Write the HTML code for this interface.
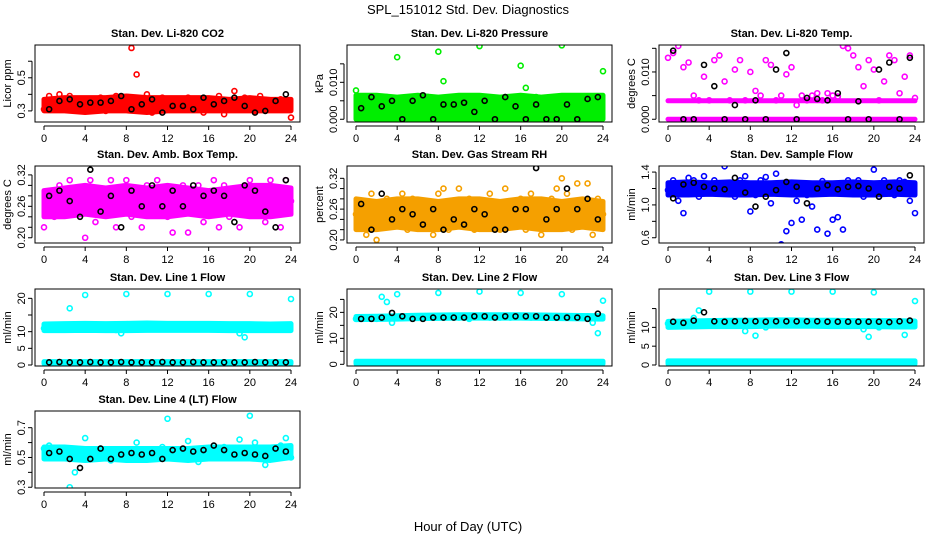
<!DOCTYPE html>
<html><head><meta charset="utf-8">
<style>
html,body{margin:0;padding:0;background:#fff;}
svg{display:block;font-family:"Liberation Sans",Arial,sans-serif;}
</style></head>
<body>
<svg id="chart" width="936" height="540" viewBox="0 0 936 540">
<text x="468" y="14" text-anchor="middle" font-size="13">SPL_151012  Std. Dev. Diagnostics</text>
<text x="468" y="531" text-anchor="middle" font-size="13">Hour of Day (UTC)</text>
</svg>
<script>
// shared measurement times
const hoursColor = [0,0.5,1,1.5,2,2.5,3,3.5,4,4.5,5,5.5,6,6.5,7,7.5,8,8.5,9,9.5,10,10.5,11,11.5,12,12.5,13,13.5,14,14.5,15,15.5,16,16.5,17,17.5,18,18.5,19,19.5,20,20.5,21,21.5,22,22.5,23,23.5,24];
const hoursBlack = [0.5,1.5,2.5,3.5,4.5,5.5,6.5,7.5,8.5,9.5,10.5,11.5,12.5,13.5,14.5,15.5,16.5,17.5,18.5,19.5,20.5,21.5,22.5,23.5];
const hoursBand = [0,2,4,6,8,10,12,14,16,18,20,22,24];
const xTicks = [0,4,8,12,16,20,24];

// panel 1 CO2
const co2Color = [0.31,0.39,0.33,0.40,0.36,0.39,0.34,0.31,0.35,0.37,0.33,0.38,0.30,0.36,0.39,0.32,0.37,0.68,0.52,0.35,0.40,0.29,0.34,0.38,0.33,0.37,0.31,0.36,0.38,0.33,0.35,0.29,0.37,0.34,0.39,0.28,0.36,0.42,0.33,0.38,0.35,0.30,0.39,0.34,0.36,0.31,0.37,0.33,0.26];
const co2Black = [0.31,0.36,0.37,0.34,0.35,0.35,0.36,0.39,0.31,0.34,0.37,0.29,0.33,0.33,0.31,0.38,0.34,0.36,0.38,0.33,0.29,0.30,0.36,0.40];
const co2BandLo = [0.30,0.30,0.29,0.30,0.30,0.29,0.30,0.30,0.30,0.30,0.30,0.30,0.30];
const co2BandHi = [0.37,0.38,0.38,0.38,0.39,0.38,0.38,0.38,0.38,0.37,0.38,0.37,0.37];
// panel 2 pressure
const presColor = [0.0078,0.005,0.003,0.006,0.001,0.004,0.006,0.002,0.0168,0.005,0.003,0.006,0.0045,0.002,0.006,0.004,0.0183,0.0103,0.005,0.003,0.006,0.001,0.005,0.004,0.0198,0.006,0.002,0.005,0.004,0.006,0.003,0.005,0.0145,0.0085,0.004,0.006,0.002,0.005,0.003,0.006,0.0200,0.004,0.006,0.002,0.005,0.006,0.003,0.005,0.0130];
const presBlack = [0.003,0.006,0.0035,0.005,0,0.005,0.0065,0,0.004,0.004,0.0045,0.002,0.005,0,0.006,0.0035,0,0.004,0,0,0.004,0,0.0055,0.006];
const presBandLo = [0,0,0,0,0,0,0,0,0,0,0,0,0];
const presBandHi = [0.0065,0.0065,0.006,0.0065,0.006,0.0065,0.0065,0.006,0.0065,0.006,0.0065,0.0065,0.0065];
// panel 3 temp
const tempColor = [0.013,0.014,0.0155,0.011,0.012,0.005,0.004,0.009,0.004,0.0125,0.0135,0.008,0.004,0.0105,0.0125,0.004,0.010,0.006,0.005,0.0125,0.0115,0.004,0.005,0.0095,0.011,0.003,0.005,0.004,0.005,0.0055,0.004,0.0055,0.005,0.0048,0.0155,0.015,0.0135,0.011,0.007,0.0125,0.0105,0.004,0.008,0.0135,0.0125,0.0055,0.009,0.0135,0.0045];
const tempBlack = [0.0145,0,0,0.0115,0.007,0,0.0030,0,0.004,0,0.0105,0.0140,0,0.0045,0.0043,0.004,0.0055,0,0.0038,0,0.0105,0.012,0,0.013];
const tempBandLo = [0,0,0,0,0,0,0,0,0,0,0,0,0];
const tempBandHi = [0,0,0,0,0,0,0,0,0,0,0,0,0];
const tempBand2Lo = [0.0039,0.0039,0.0039,0.0039,0.0039,0.0039,0.0039,0.0039,0.0039,0.0039,0.0039,0.0039,0.0039];
const tempBand2Hi = [0.0039,0.0039,0.0039,0.0039,0.0039,0.0039,0.0039,0.0039,0.0039,0.0039,0.0039,0.0039,0.0039];
// panel 4 amb box temp
const ambColor = [0.22,0.28,0.24,0.30,0.27,0.31,0.25,0.29,0.20,0.31,0.23,0.28,0.26,0.31,0.22,0.29,0.31,0.24,0.27,0.22,0.30,0.25,0.31,0.28,0.24,0.21,0.29,0.30,0.21,0.25,0.30,0.23,0.28,0.31,0.22,0.30,0.24,0.29,0.22,0.30,0.31,0.25,0.29,0.23,0.31,0.26,0.22,0.31,0.27];
const ambBlack = [0.28,0.29,0.27,0.24,0.33,0.25,0.28,0.22,0.29,0.26,0.30,0.26,0.29,0.26,0.30,0.28,0.29,0.28,0.23,0.30,0.29,0.25,0.22,0.31];
const ambBandLo = [0.24,0.24,0.245,0.24,0.245,0.24,0.24,0.245,0.24,0.245,0.24,0.24,0.245];
const ambBandHi = [0.29,0.295,0.30,0.295,0.30,0.295,0.30,0.295,0.29,0.295,0.30,0.30,0.295];
// panel 5 gas stream RH
const rhColor = [0.25,0.27,0.21,0.29,0.20,0.26,0.28,0.23,0.25,0.29,0.22,0.28,0.26,0.24,0.27,0.21,0.29,0.30,0.22,0.26,0.30,0.24,0.28,0.22,0.26,0.23,0.29,0.27,0.22,0.30,0.25,0.24,0.28,0.22,0.29,0.27,0.21,0.25,0.28,0.30,0.32,0.29,0.22,0.31,0.26,0.31,0.21,0.28,0.25];
const rhBlack = [0.27,0.22,0.29,0.24,0.26,0.25,0.23,0.26,0.22,0.24,0.23,0.26,0.25,0.22,0.22,0.26,0.26,0.34,0.24,0.26,0.30,0.26,0.28,0.24];
const rhBandLo = [0.22,0.22,0.225,0.22,0.22,0.225,0.22,0.22,0.225,0.22,0.22,0.225,0.22];
const rhBandHi = [0.28,0.275,0.28,0.28,0.275,0.28,0.28,0.275,0.28,0.28,0.275,0.28,0.275];
// panel 6 sample flow
const sampColor = [1.18,1.30,1.05,0.90,1.33,1.30,1.10,1.35,1.25,1.30,1.15,1.47,1.25,1.10,1.30,1.35,0.92,1.12,1.30,1.34,1.02,1.38,0.52,0.68,0.78,1.05,0.82,1.12,0.98,0.70,1.29,0.65,0.82,0.85,0.70,1.30,1.18,1.30,1.10,1.25,1.43,1.10,1.30,1.25,1.12,1.30,1.28,1.05,0.90];
const sampBlack = [1.08,1.25,1.27,1.22,1.20,1.19,1.33,1.15,0.98,1.10,1.18,1.28,1.22,1.02,1.20,1.24,1.19,1.22,1.23,1.20,1.10,1.22,1.20,1.36];
const sampBandLo = [1.12,1.12,1.13,1.12,1.12,1.13,1.12,1.12,1.13,1.12,1.12,1.13,1.12];
const sampBandHi = [1.27,1.28,1.27,1.28,1.27,1.27,1.28,1.27,1.27,1.28,1.27,1.28,1.27];
// panel 7 line 1 flow
const l1Color = [11,11.5,10.8,12,11.2,17,11.5,10.8,21,11,11.5,11,11.8,12,10.5,9.5,21.3,10.8,11.5,11,12,11.2,11.5,11,21.3,11.5,11.2,12,11,11.5,11.2,11.8,21.3,11,11.5,12,11.2,10.8,9.5,8.3,21.3,11,11.5,11.2,11.8,12,11.5,11,19.8];
const l1Black = [0.8,0.9,0.8,0.8,0.9,0.8,0.8,0.9,0.8,0.8,0.8,0.9,0.8,0.8,0.9,0.8,0.8,0.8,0.8,0.8,0.9,0.8,0.8,0.8];
const l1BandLo = [10.3,10.3,10.4,10.3,10.3,10.4,10.4,10.4,10.4,10.3,10.3,10.3,10.3];
const l1BandHi = [12.3,12.4,12.5,12.4,12.5,12.6,12.5,12.5,12.5,12.4,12.4,12.3,12.4];
const l1Band2Lo = [0.4,0.4,0.4,0.4,0.4,0.4,0.4,0.4,0.4,0.4,0.4,0.4,0.4];
const l1Band2Hi = [1.0,1.0,1.0,1.0,1.0,1.0,1.0,1.0,1.0,1.0,1.0,1.0,1.0];
// panel 8 line 2 flow
const l2Color = [17.5,17.5,18,18,17.5,26,24,16,27,18,18.5,18,18,18.5,18,18.5,27.5,18,18.5,18,18,18.5,17.5,18.5,28,18.5,18,18.5,18,18.5,18,18.5,27.5,18.5,18,18.5,18,18.5,18,18.5,27,18,18.5,18,18,18.5,16,12,24.5];
const l2Black = [17.5,17.5,18,19.8,18.5,17.5,17.5,18,18,18,18,18.5,18.5,18,18.5,18.5,18.5,18.5,18,18,18,18,17.5,19.5];
const l2BandLo = [17.2,17.3,17.4,17.6,17.7,17.8,17.8,17.8,17.8,17.7,17.6,17.5,17.4];
const l2BandHi = [18.4,18.5,18.7,18.9,19.0,19.1,19.1,19.1,19.1,19.0,18.9,18.8,18.7];
const l2Band2Lo = [0.2,0.2,0.2,0.2,0.2,0.2,0.2,0.2,0.2,0.2,0.2,0.2,0.2];
const l2Band2Hi = [1.2,1.2,1.2,1.2,1.2,1.2,1.2,1.2,1.2,1.2,1.2,1.2,1.2];
// panel 9 line 3 flow
const l3Color = [11,11,10.5,11,11,12.5,14.5,11,19.5,11,11,10.5,11,11,10.5,9,19.5,7.8,11,10,11,11.5,11,11,19.5,11,11,11.5,11,11,11,11,19.5,11,11,11,11,11,9.5,7.5,19.3,10,11,11,11,11,8,10.5,17];
const l3Black = [11.5,11.2,11.8,14,11.6,11.5,11.6,11.7,11.6,11.5,11.6,11.6,11.6,11.6,11.6,11.5,11.5,11.5,11.5,11.5,11.5,11.4,11.6,11.8];
const l3BandLo = [10.0,10.1,10.2,10.2,10.2,10.3,10.3,10.3,10.2,10.2,10.2,10.1,10.1];
const l3BandHi = [11.6,11.7,11.8,11.9,11.9,12.0,12.0,11.9,11.9,11.8,11.8,11.8,11.7];
const l3Band2Lo = [0.3,0.3,0.3,0.3,0.3,0.3,0.3,0.3,0.3,0.3,0.3,0.3,0.3];
const l3Band2Hi = [1.1,1.1,1.1,1.1,1.1,1.1,1.1,1.1,1.1,1.1,1.1,1.1,1.1];
// panel 10 line 4 flow
const l4Color = [0.56,0.58,0.52,0.55,0.50,0.30,0.40,0.52,0.63,0.55,0.50,0.56,0.53,0.48,0.55,0.50,0.52,0.55,0.60,0.52,0.55,0.50,0.53,0.57,0.76,0.52,0.55,0.50,0.61,0.53,0.47,0.55,0.56,0.50,0.55,0.57,0.52,0.55,0.62,0.53,0.78,0.60,0.55,0.45,0.52,0.56,0.58,0.63,0.50];
const l4Black = [0.53,0.54,0.49,0.43,0.49,0.56,0.49,0.52,0.53,0.52,0.53,0.49,0.55,0.56,0.54,0.55,0.58,0.55,0.52,0.53,0.52,0.51,0.56,0.54];
const l4BandLo = [0.49,0.49,0.48,0.49,0.48,0.48,0.49,0.48,0.49,0.49,0.49,0.48,0.50];
const l4BandHi = [0.57,0.57,0.56,0.56,0.56,0.56,0.56,0.56,0.57,0.57,0.57,0.57,0.58];

const panels = [
 {name:'co2',title:'Stan. Dev. Li-820 CO2',ylab:'Licor ppm',col:0,row:0,ymin:0.233,ymax:0.698,ticks:[0.3,0.4,0.5,0.6],labels:[0.3,0.5],fmt:1,color:'#ff0000',c:co2Color,b:co2Black,bands:[[co2BandLo,co2BandHi]]},
 {name:'pressure',title:'Stan. Dev. Li-820 Pressure',ylab:'kPa',col:1,row:0,ymin:-0.00074,ymax:0.0201,ticks:[0,0.005,0.01,0.015],labels:[0,0.01],fmt:3,color:'#00ee00',c:presColor,b:presBlack,bands:[[presBandLo,presBandHi]]},
 {name:'temp',title:'Stan. Dev. Li-820 Temp.',ylab:'degrees C',col:2,row:0,ymin:-0.00058,ymax:0.0157,ticks:[0,0.005,0.01,0.015],labels:[0,0.01],fmt:3,color:'#ff00ff',c:tempColor,b:tempBlack,bands:[[tempBandLo,tempBandHi],[tempBand2Lo,tempBand2Hi]]},
 {name:'amb-temp',title:'Stan. Dev. Amb. Box Temp.',ylab:'degrees C',col:0,row:1,ymin:0.19,ymax:0.337,ticks:[0.2,0.22,0.24,0.26,0.28,0.3,0.32],labels:[0.2,0.26,0.32],fmt:2,color:'#ff00ff',c:ambColor,b:ambBlack,bands:[[ambBandLo,ambBandHi]]},
 {name:'rh',title:'Stan. Dev. Gas Stream RH',ylab:'percent',col:1,row:1,ymin:0.194,ymax:0.344,ticks:[0.2,0.22,0.24,0.26,0.28,0.3,0.32],labels:[0.2,0.26,0.32],fmt:2,color:'#f5a000',c:rhColor,b:rhBlack,bands:[[rhBandLo,rhBandHi]]},
 {name:'sample-flow',title:'Stan. Dev. Sample Flow',ylab:'ml/min',col:2,row:1,ymin:0.536,ymax:1.474,ticks:[0.6,0.8,1.0,1.2,1.4],labels:[0.6,1.0,1.4],fmt:1,color:'#0000ff',c:sampColor,b:sampBlack,bands:[[sampBandLo,sampBandHi]]},
 {name:'line1-flow',title:'Stan. Dev. Line 1 Flow',ylab:'ml/min',col:0,row:2,ymin:-0.3,ymax:22.8,ticks:[0,5,10,15,20],labels:[0,5,10,20],fmt:0,color:'#00ffff',c:l1Color,b:l1Black,bands:[[l1BandLo,l1BandHi],[l1Band2Lo,l1Band2Hi]]},
 {name:'line2-flow',title:'Stan. Dev. Line 2 Flow',ylab:'ml/min',col:1,row:2,ymin:-0.65,ymax:29,ticks:[0,5,10,15,20,25],labels:[0,10,20],fmt:0,color:'#00ffff',c:l2Color,b:l2Black,bands:[[l2BandLo,l2BandHi],[l2Band2Lo,l2Band2Hi]]},
 {name:'line3-flow',title:'Stan. Dev. Line 3 Flow',ylab:'ml/min',col:2,row:2,ymin:-0.27,ymax:20.2,ticks:[0,5,10,15],labels:[0,5,10],fmt:0,color:'#00ffff',c:l3Color,b:l3Black,bands:[[l3BandLo,l3BandHi],[l3Band2Lo,l3Band2Hi]]},
 {name:'line4-flow',title:'Stan. Dev. Line 4 (LT) Flow',ylab:'ml/min',col:0,row:3,ymin:0.295,ymax:0.812,ticks:[0.3,0.4,0.5,0.6,0.7],labels:[0.3,0.5,0.7],fmt:1,color:'#00ffff',c:l4Color,b:l4Black,bands:[[l4BandLo,l4BandHi]]}
];

const NS='http://www.w3.org/2000/svg';
const svg=document.getElementById('chart');
const colLeft=[35,347,659], rowTop=[45,166,289,411], W=265, H=77;
function mk(tag,attrs,parent){const e=document.createElementNS(NS,tag);for(const k in attrs)e.setAttribute(k,attrs[k]);parent.appendChild(e);return e;}

panels.forEach(p=>{
  const L=colLeft[p.col], T=rowTop[p.row], R=L+W, B=T+H;
  const xs=h=>L+9+(h/24)*(W-18);
  const ys=v=>B-(v-p.ymin)/(p.ymax-p.ymin)*H;
  const g=mk('g',{},svg);
  
  
  const t=mk('text',{x:(L+R)/2,y:T-8,'text-anchor':'middle','font-size':'11','font-weight':'bold'},g);
  t.textContent=p.title;
  
  
  const yl=mk('text',{transform:`translate(${L-24},${(T+B)/2}) rotate(-90)`,'text-anchor':'middle','font-size':'11'},g);
  yl.textContent=p.ylab;
  
  
  // clip
  const cid='clip-'+p.name;
  const cp=mk('clipPath',{id:cid},g);
  mk('rect',{x:L,y:T,width:W,height:H},cp);
  const plot=mk('g',{'clip-path':`url(#${cid})`},g);
  
  
  p.bands.forEach(bd=>{
    const lo=bd[0], hi=bd[1];
    let pts=hoursBand.map((h,i)=>xs(h)+','+ys(hi[i]));
    pts=pts.concat(hoursBand.map((h,i)=>xs(h)+','+ys(lo[i])).reverse());
    const pg=mk('polygon',{points:pts.join(' '),fill:p.color,stroke:p.color,'stroke-width':'5','stroke-linejoin':'round'},plot);
    
    
  });
  p.c.forEach((v,i)=>{
    const c=mk('circle',{cx:xs(hoursColor[i]),cy:ys(v),r:2.5,fill:'none',stroke:p.color,'stroke-width':'1.6'},plot);
    
    
  });
  p.b.forEach((v,i)=>{
    const c=mk('circle',{cx:xs(hoursBlack[i]),cy:ys(v),r:2.5,fill:'none',stroke:'#000','stroke-width':'1.6'},plot);
    
    
  });
  const box=mk('rect',{x:L,y:T,width:W,height:H,fill:'none',stroke:'#000','stroke-width':'1'},g);
  
  
  // x axis
  const ax=L-2;
  mk('line',{x1:xs(0),x2:xs(24),y1:B+4,y2:B+4,stroke:'#000'},g);
  xTicks.forEach(h=>{
    mk('line',{x1:xs(h),x2:xs(h),y1:B+4,y2:B+8,stroke:'#000'},g);
    const tl=mk('text',{x:xs(h),y:B+20,'text-anchor':'middle','font-size':'11'},g);
    tl.textContent=h;
    
    
  });
  // y axis
  const yt=p.ticks;
  mk('line',{x1:L-3,x2:L-3,y1:ys(yt[0]),y2:ys(yt[yt.length-1]),stroke:'#000'},g);
  yt.forEach(v=>{mk('line',{x1:L-7,x2:L-3,y1:ys(v),y2:ys(v),stroke:'#000'},g);});
  p.labels.forEach(v=>{
    const tl=mk('text',{transform:`translate(${L-10},${ys(v)}) rotate(-90)`,'text-anchor':'middle','font-size':'11'},g);
    tl.textContent=v.toFixed(p.fmt);
    
    
  });
});
</script>
</body></html>
